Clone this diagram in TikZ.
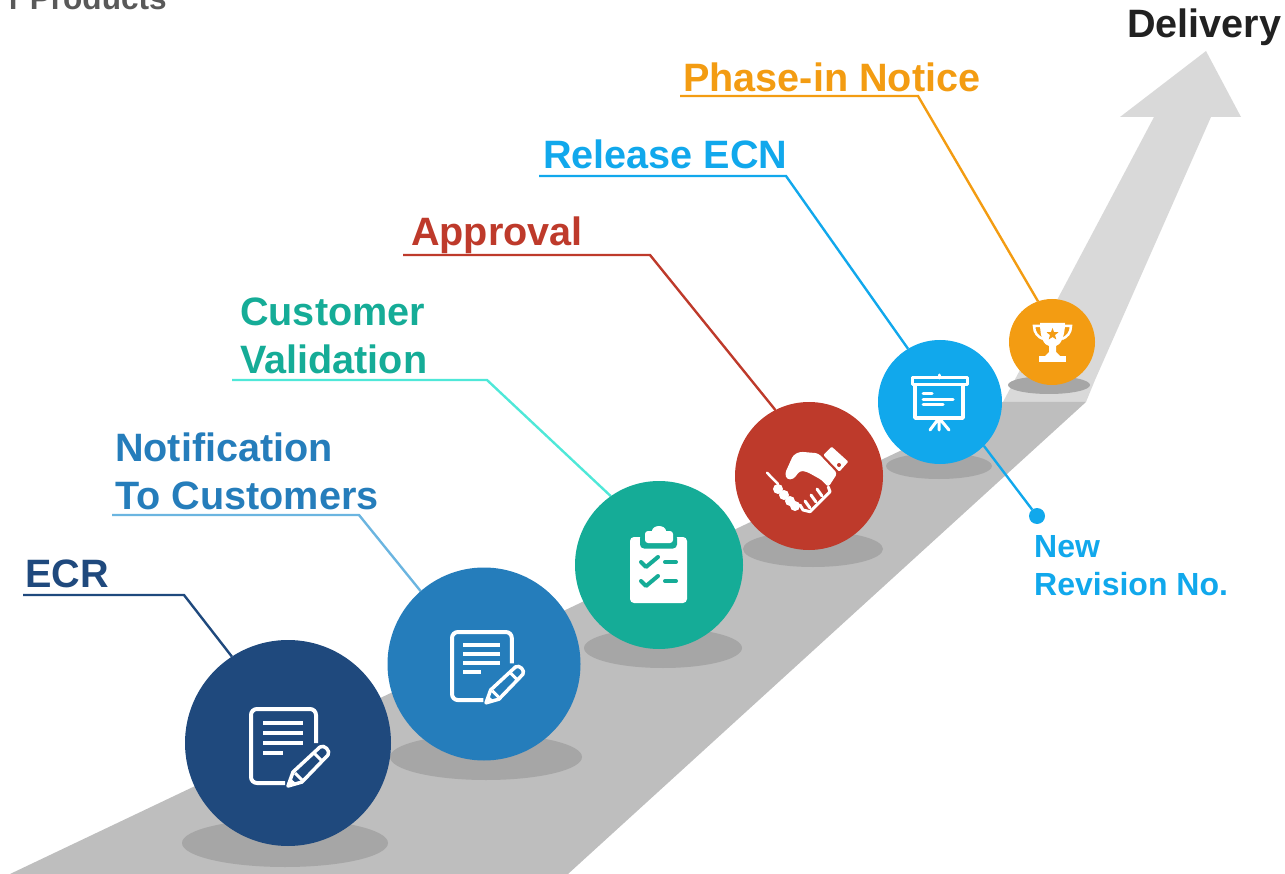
\documentclass[tikz,border=0pt]{standalone}
\usepackage{fontspec}
\setmainfont{Liberation Sans}
\usetikzlibrary{calc}
\pgfdeclarelayer{conn}
\pgfsetlayers{conn,main}
\definecolor{cNavy}{HTML}{1F497D}
\definecolor{cBlue}{HTML}{257DBB}
\definecolor{cTeal}{HTML}{15AC97}
\definecolor{cRed}{HTML}{BE3A2B}
\definecolor{cSky}{HTML}{11A8EC}
\definecolor{cOrange}{HTML}{F39C12}
\definecolor{cRoad}{HTML}{BEBEBE}
\definecolor{cArrow}{HTML}{D9D9D9}
\definecolor{cShadow}{HTML}{A6A6A6}
\tikzset{
  x=1pt,y=-1pt,
  ball/.style={circle,inner sep=0pt,outer sep=0pt,minimum size=#1},
  shade ellipse/.style={fill=cShadow},
  lab/.style={font=\bfseries\fontsize{39.6}{48}\selectfont,inner sep=0pt,anchor=base west,align=left},
  smalllab/.style={font=\bfseries\fontsize{32}{38}\selectfont,inner sep=0pt,anchor=base west,align=left},
  leader/.style={line width=2.4pt,line join=miter},
  iconline/.style={draw=white,line width=#1,line cap=round,line join=round},
  docicon/.pic={
    \draw[iconline=4pt,line cap=butt,rounded corners=6pt] (65,34) -- (65,0) -- (0,0) -- (0,74) -- (34,74);
    \draw[white,line width=4pt] (12,14) -- (52,14) (12,24) -- (52,24) (12,34) -- (52,34) (12,44) -- (32,44);
    \draw[iconline=3.5pt,fill=pencilbg] (37,77) -- (42,63) -- (69,38) .. controls (73,35) and (80,42) .. (77,46) -- (51,73) -- cycle;
    \draw[white,line width=3pt] (63,44) -- (71,52) (44,64) -- (51,71);
    \fill[white] (37,77) -- (39,69) -- (46,75) -- cycle;
  }
}
\begin{document}
\begin{tikzpicture}
\useasboundingbox (0,0) rectangle (1285,874);
\clip (0,0) rectangle (1285,874);
% arrow and road
\fill[cArrow] (1003,402) -- (1154,117) -- (1120,117) -- (1206,51) -- (1241,117) -- (1211,117) -- (1095,380) -- (1086,402) -- cycle;
\fill[cRoad] (10,874) -- (1003,402) -- (1086,402) -- (568,874) -- cycle;
% shadows
\fill[shade ellipse] (285,843) ellipse[x radius=103,y radius=24];
\fill[shade ellipse] (486,757) ellipse[x radius=96,y radius=23];
\fill[shade ellipse] (663,648) ellipse[x radius=79,y radius=20];
\fill[shade ellipse] (813,549) ellipse[x radius=70,y radius=18];
\fill[shade ellipse] (939,466) ellipse[x radius=53,y radius=13];
\fill[shade ellipse] (1049,385) ellipse[x radius=41,y radius=9];
% balls
\node[ball=206pt,fill=cNavy] (ecr) at (288,743) {};
\node[ball=193pt,fill=cBlue] (notif) at (484,664) {};
\node[ball=168pt,fill=cTeal] (valid) at (659,565) {};
\node[ball=148pt,fill=cRed] (appr) at (809,476) {};
\node[ball=124pt,fill=cSky] (rel) at (940,402) {};
\node[ball=86pt,fill=cOrange] (phase) at (1052,342) {};
\node[ball=16pt,fill=cSky] (dot) at (1037,516) {};
% labels
\node[lab,text=cNavy] (tEcr) at (25,587.5) {ECR};
\node[lab,text=cBlue] (tNotif) at (115,509.5) {Notification\\To Customers};
\node[lab,text=cTeal] (tValid) at (240,373.5) {Customer\\Validation};
\node[lab,text=cRed] (tAppr) at (411,246) {Approval};
\node[lab,text=cSky] (tRel) at (543,169) {Release ECN};
\node[lab,text=cOrange] (tPhase) at (683,91.5) {Phase-in Notice};
\node[lab,text=black!87] (tDeliv) at (1127,38) {Delivery};
\node[smalllab,text=cSky] (tNew) at (1034,595) {New\\Revision No.};
\node[inner sep=0pt,anchor=base east,font=\bfseries\fontsize{31.6}{36}\selectfont,text=black!65] (tProd) at (167,9.5) {r Products};
% connector ends
\coordinate (a1) at (23,595); \coordinate (b1) at (184,595);
\coordinate (a2) at (112,515); \coordinate (b2) at (359,515);
\coordinate (a3) at (232,380); \coordinate (b3) at (487,380);
\coordinate (a4) at (403,255); \coordinate (b4) at (650,255);
\coordinate (a5) at (539,176); \coordinate (b5) at (786,176);
\coordinate (a6) at (680,96); \coordinate (b6) at (918,96);
\begin{pgfonlayer}{conn}
\draw[leader,cNavy] (a1) -- (b1) -- (ecr.123.5);
\draw[leader,color={rgb,255:red,107;green,181;blue,224}] (a2) -- (b2) -- (notif.131.6);
\draw[leader,color={rgb,255:red,79;green,232;blue,216}] (a3) -- (b3) -- (valid.125.8);
\draw[leader,cRed] (a4) -- (b4) -- (appr.117);
\draw[leader,cSky] (a5) -- (b5) -- (rel.121.6);
\draw[leader,cOrange] (a6) -- (b6) -- (phase.109.7);
\end{pgfonlayer}
\draw[leader,cSky] (rel.-45) -- (dot);
% icons
\colorlet{pencilbg}{cNavy}
\pic at (251,709) {docicon};
\colorlet{pencilbg}{cBlue}
\pic[scale=0.92] at (452,632) {docicon};
% clipboard
\fill[white,rounded corners=4pt] (630,537) rectangle (687,603);
\fill[cTeal,rounded corners=4pt] (640,534) rectangle (677,548.5);
\fill[white,rounded corners=3pt] (645,531) rectangle (673,543);
\fill[white] (659,531) ellipse[x radius=7,y radius=5];
\draw[cTeal,line width=4pt,line cap=round,line join=round] (641,562) -- (646,567) -- (658,557) (641,581) -- (646,586) -- (658,576);
\draw[cTeal,line width=4pt,line cap=round] (665,562) -- (676,562) (665,581) -- (676,581);
% handshake
\fill[white,rounded corners=1pt] (823.3,455) -- (831.7,446.7) -- (848.3,461.7) -- (839.3,471.7) -- cycle;
\fill[cRed] (839,465) circle[radius=2];
\fill[white,rounded corners=3pt] (785,473.3) -- (793.3,455) -- (800,451.7) -- (818.3,453.3) -- (837.3,473.3) -- (828.3,487.3) -- (821.7,480) -- (806.7,471.7) -- (800,470.7) -- (793.3,479.3) -- (786.7,479.3) -- cycle;
\draw[iconline=3pt] (828.3,487) -- (830,491.7) -- (810,511.7) -- (803,510) -- (800,505);
\draw[iconline=3pt] (817,489) -- (822,496) (811,495) -- (816,502) (805,501) -- (810,508);
\draw[iconline=2.5pt] (767,472.7) -- (778,484);
\fill[white] (778,489) circle[radius=5] (784,495) circle[radius=5] (790,501) circle[radius=5] (795,506) circle[radius=5];
% screen
\draw[iconline=3pt,line cap=butt] (912,378) rectangle (967,385);
\draw[iconline=3pt] (939,378) -- (939,375);
\draw[iconline=3.5pt,line cap=butt] (915,385) -- (915,418) -- (963,418) -- (963,385);
\draw[iconline=3pt] (923,394) -- (932,394) (923,399.5) -- (953,399.5) (923,405) -- (943,405);
\draw[iconline=3pt] (939,418) -- (930,430) (939,418) -- (939,430) (939,418) -- (949,430);
% trophy
\fill[white] (1040,323) -- (1065,323) .. controls (1065,338) and (1060,345) .. (1056,346) -- (1056,352) -- (1060,356) -- (1045,356) -- (1049,352) -- (1049,346) .. controls (1044,345) and (1040,338) .. (1040,323) -- cycle;
\fill[white] (1039,356) rectangle (1066,362);
\draw[white,line width=2.5pt] (1040,326) -- (1034,326) .. controls (1034,333) and (1038,337) .. (1043,339);
\draw[white,line width=2.5pt] (1065,326) -- (1071,326) .. controls (1071,333) and (1067,337) .. (1062,339);
\fill[cOrange] (1052.5,328) -- (1054,332) -- (1058.5,332.3) -- (1055,335) -- (1056.3,339.5) -- (1052.5,337) -- (1048.7,339.5) -- (1050,335) -- (1046.5,332.3) -- (1051,332) -- cycle;
\end{tikzpicture}
\end{document}
